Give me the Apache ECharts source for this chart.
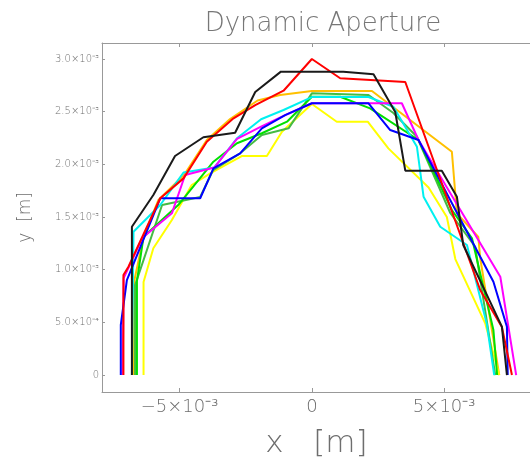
<!DOCTYPE html>
<html>
<head>
<meta charset="utf-8">
<script src="https://cdn.jsdelivr.net/npm/echarts@6/dist/echarts.min.js"></script>
<style>html,body{margin:0;padding:0;background:#fff;}#c{width:530px;height:464px;}</style>
</head>
<body>
<div id="c"></div>
<script>
// values in units of 1e-3 m
const UNIT = 1e-3;
const xTickValues = [-5, 0, 5];
const xTickLabels = ['\u22125\u00d710\u207b\u00b3', '0', '5\u00d710\u207b\u00b3'];
const yTickValues = [0, 0.5, 1.0, 1.5, 2.0, 2.5, 3.0];
const yTickLabels = ['0', '5.0\u00d710\u207b\u2074', '1.0\u00d710\u207b\u00b3', '1.5\u00d710\u207b\u00b3', '2.0\u00d710\u207b\u00b3', '2.5\u00d710\u207b\u00b3', '3.0\u00d710\u207b\u00b3'];

const blackX = [-6.80,-6.80,-5.99,-5.17,-4.10,-2.90,-2.14,-1.17,1.19,2.33,3.15,3.53,4.91,5.48,5.72,7.18,7.37];
const blackY = [0,1.408,1.709,2.079,2.257,2.300,2.687,2.880,2.880,2.855,2.497,1.940,1.940,1.693,1.234,0.459,0];
const redX = [-7.12,-7.12,-6.93,-5.73,-4.85,-3.97,-2.96,-2.14,-1.07,0,1.07,3.53,6.36,7.18,7.56];
const redY = [0,0.949,1.028,1.678,1.867,2.215,2.437,2.563,2.699,3.000,2.817,2.782,0.807,0.456,0];
const blueX = [-7.22,-7.22,-6.99,-5.73,-4.22,-3.72,-2.71,-1.89,-1.01,0,2.14,2.96,4.03,6.86,7.37,7.40];
const blueY = [0,0.475,0.902,1.678,1.678,1.962,2.105,2.342,2.468,2.580,2.580,2.326,2.231,0.886,0.459,0];
const magentaX = [-7.15,-7.11,-6.41,-5.29,-4.79,-3.69,-2.83,-1.92,-1.01,0,3.40,4.03,7.12,7.72];
const magentaY = [0,0.921,1.301,1.535,1.899,1.970,2.241,2.359,2.468,2.580,2.580,2.231,0.933,0];
const cyanX = [-6.80,-6.74,-5.73,-4.85,-3.69,-2.83,-1.92,-1.07,0,2.14,3.08,3.97,4.22,4.85,5.86,6.61,6.89];
const cyanY = [0,1.360,1.614,1.923,1.970,2.247,2.428,2.516,2.639,2.639,2.547,2.167,1.693,1.408,1.234,0.484,0];
const limeX = [-6.61,-6.61,-6.36,-5.05,-3.72,-2.83,-1.89,-0.94,0,1.07,2.20,4.03,5.29,6.05,6.86,7.00];
const limeY = [0,0.892,1.313,1.614,2.025,2.200,2.295,2.405,2.642,2.642,2.532,2.231,1.567,1.298,0.427,0];
const greenX = [-6.68,-6.68,-5.66,-4.22,-3.73,-2.71,-1.89,-0.88,0,2.14,3.08,3.97,5.23,6.17,6.93];
const greenY = [0,0.854,1.614,1.690,1.946,2.105,2.279,2.342,2.674,2.658,2.487,2.262,1.538,1.218,0];
const yellowX = [-6.36,-6.36,-5.99,-5.29,-4.54,-3.84,-2.65,-1.70,-1.13,0,0.94,2.11,2.89,4.41,5.10,5.42,6.55,7.08];
const yellowY = [0,0.883,1.203,1.472,1.804,1.915,2.079,2.079,2.310,2.573,2.405,2.405,2.152,1.780,1.500,1.101,0.491,0];
const orangeX = [-6.72,-6.72,-6.36,-5.80,-4.83,-3.97,-3.09,-2.05,-1.20,0,2.27,5.29,5.48,6.29,6.36,7.08];
const orangeY = [0,0.883,1.313,1.661,1.899,2.231,2.430,2.606,2.658,2.696,2.696,2.120,1.535,1.310,1.111,0];

const seriesDefs = [
  {name: 'orange', x: orangeX, y: orangeY, color: '#ffc000'},
  {name: 'yellow', x: yellowX, y: yellowY, color: '#ffff00'},
  {name: 'green', x: greenX, y: greenY, color: '#44bb44'},
  {name: 'lime', x: limeX, y: limeY, color: '#00e000'},
  {name: 'cyan', x: cyanX, y: cyanY, color: '#00f0f0'},
  {name: 'magenta', x: magentaX, y: magentaY, color: '#ff00ff'},
  {name: 'blue', x: blueX, y: blueY, color: '#0000ff'},
  {name: 'red', x: redX, y: redY, color: '#ff0000'},
  {name: 'black', x: blackX, y: blackY, color: '#1a1a1a'}
];

function lookup(vals, labels, v) {
  for (let i = 0; i < vals.length; i++) {
    if (Math.abs(vals[i] * UNIT - v) < 1e-9) return labels[i];
  }
  return '';
}

const FONT = 'DejaVu Sans';
const AX = '#999999';
const TX = '#6e6e6e';

const chart = echarts.init(document.getElementById('c'), null, {renderer: 'canvas'});
chart.setOption({
  animation: false,
  backgroundColor: '#ffffff',
  title: {
    text: 'Dynamic Aperture',
    left: 318, top: 6, textAlign: 'center',
    textStyle: {fontFamily: FONT, fontSize: 26, fontWeight: 200, color: '#777777'}
  },
  grid: {left: 102, top: 43, right: -1, bottom: 72, containLabel: false, outerBoundsMode: 'none'},
  xAxis: [{
    type: 'value', position: 'bottom',
    min: -7.93 * UNIT, max: 8.28 * UNIT,
    splitLine: {show: false},
    axisLine: {show: true, onZero: false, lineStyle: {color: AX, width: 1}},
    axisTick: {show: true, inside: true, length: 4, customValues: xTickValues.map(v => v * UNIT), lineStyle: {color: AX}},
    axisLabel: {show: true, margin: 6, customValues: xTickValues.map(v => v * UNIT),
      formatter: v => lookup(xTickValues, xTickLabels, v),
      fontFamily: FONT, fontSize: 18, fontWeight: 200, color: TX},
    name: 'x   [m]', nameLocation: 'middle', nameGap: 36,
    nameTextStyle: {fontFamily: FONT, fontSize: 31, fontWeight: 200, color: TX}
  }, {
    type: 'value', position: 'top',
    min: -7.93 * UNIT, max: 8.28 * UNIT,
    splitLine: {show: false},
    axisLine: {show: true, onZero: false, lineStyle: {color: AX, width: 1}},
    axisTick: {show: true, inside: true, length: 4, customValues: xTickValues.map(v => v * UNIT), lineStyle: {color: AX}},
    axisLabel: {show: false}
  }],
  yAxis: [{
    type: 'value', position: 'left',
    min: -0.161 * UNIT, max: 3.152 * UNIT,
    splitLine: {show: false},
    axisLine: {show: true, onZero: false, lineStyle: {color: AX, width: 1}},
    axisTick: {show: true, inside: true, length: 3, customValues: yTickValues.map(v => v * UNIT), lineStyle: {color: AX}},
    axisLabel: {show: true, margin: 3, customValues: yTickValues.map(v => v * UNIT),
      formatter: v => lookup(yTickValues, yTickLabels, v),
      fontFamily: FONT, fontSize: 10, fontWeight: 200, color: TX},
    name: 'y  [m]', nameLocation: 'middle', nameGap: 68, nameRotate: 90,
    nameTextStyle: {fontFamily: FONT, fontSize: 17, fontWeight: 200, color: TX}
  }],
  series: seriesDefs.map(s => ({
    name: s.name,
    type: 'line',
    xAxisIndex: 0, yAxisIndex: 0,
    showSymbol: false,
    symbol: 'none',
    lineStyle: {color: s.color, width: 2},
    itemStyle: {color: s.color},
    data: s.x.map((xv, i) => [xv * UNIT, s.y[i] * UNIT]),
    clip: true
  }))
});
</script>
</body>
</html>
